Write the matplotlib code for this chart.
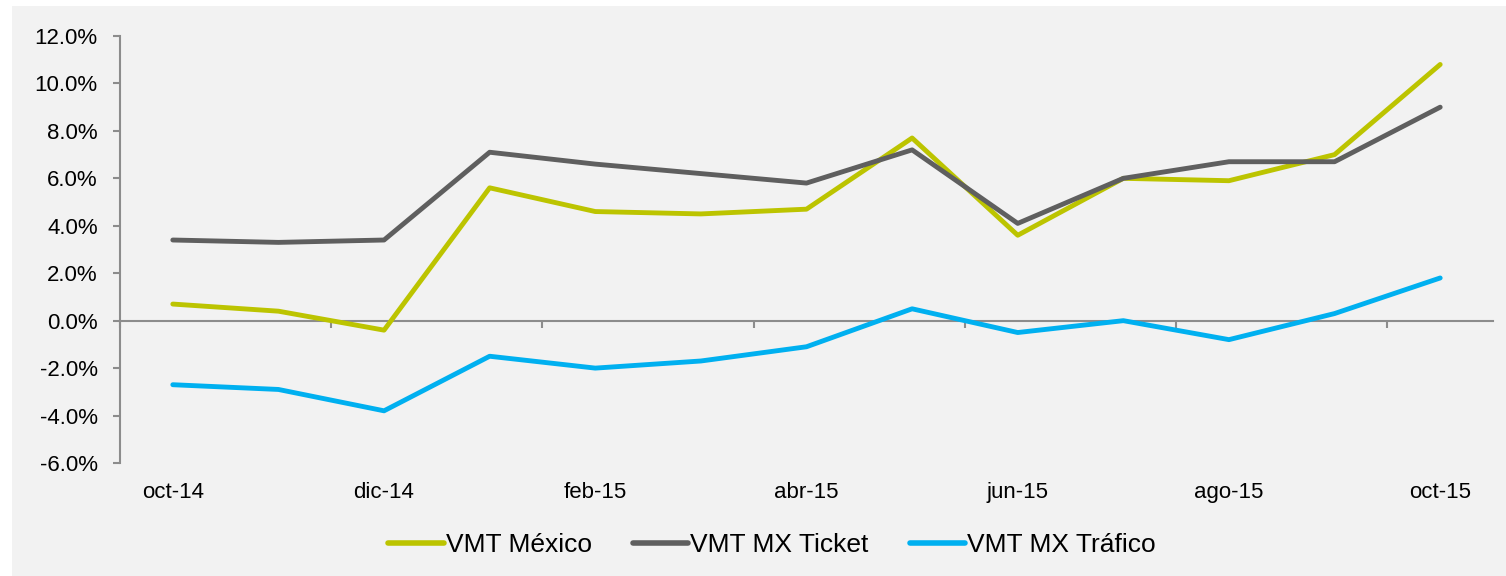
import numpy as np
import matplotlib.pyplot as plt
from matplotlib.patches import Rectangle
from matplotlib.ticker import FuncFormatter

months = ["oct-14", "nov-14", "dic-14", "ene-15", "feb-15", "mar-15", "abr-15",
          "may-15", "jun-15", "jul-15", "ago-15", "sep-15", "oct-15"]
vmt_mexico = [0.7, 0.4, -0.4, 5.6, 4.6, 4.5, 4.7, 7.7, 3.6, 6.0, 5.9, 7.0, 10.8]
vmt_ticket = [3.4, 3.3, 3.4, 7.1, 6.6, 6.2, 5.8, 7.2, 4.1, 6.0, 6.7, 6.7, 9.0]
vmt_trafico = [-2.7, -2.9, -3.8, -1.5, -2.0, -1.7, -1.1, 0.5, -0.5, 0.0, -0.8, 0.3, 1.8]

plt.rcParams['font.family'] = ['Liberation Sans', 'DejaVu Sans']
axis_gray = "#8c8c8c"
bg = "#f2f2f2"

fig = plt.figure(figsize=(15.06, 5.76), dpi=100)
fig.patch.set_facecolor("white")
fig.patches.append(Rectangle((12 / 1506, 0), 1, 570 / 576, transform=fig.transFigure,
                             facecolor=bg, edgecolor="none", zorder=-10))

ax = fig.add_axes([120 / 1506, 113 / 576, 1373 / 1506, 427 / 576])
ax.set_facecolor("none")

x = np.arange(len(months))
ax.plot(x, vmt_mexico, color="#bcc400", lw=3.5, solid_capstyle="round", label="VMT México", zorder=3)
ax.plot(x, vmt_ticket, color="#5f5f5f", lw=3.5, solid_capstyle="round", label="VMT MX Ticket", zorder=3)
ax.plot(x, vmt_trafico, color="#00b0f0", lw=3.5, solid_capstyle="round", label="VMT MX Tráfico", zorder=3)

ax.set_xlim(-0.5, len(months) - 0.5)
ax.set_ylim(-6, 12)
ax.set_yticks(np.arange(-6, 12.1, 2))
ax.yaxis.set_major_formatter(FuncFormatter(lambda v, p: f"{v:.1f}%"))
ax.set_xticks(x[::2])
ax.set_xticklabels(months[::2])
ax.tick_params(axis="x", length=0, labelsize=16, pad=14)
ax.tick_params(axis="y", length=5, color=axis_gray, width=1.5, labelsize=16, pad=11)

for s in ["top", "right", "bottom"]:
    ax.spines[s].set_visible(False)
ax.spines["left"].set_color(axis_gray)
ax.spines["left"].set_linewidth(1.5)

# category axis crossing at zero
sec = ax.secondary_xaxis(1 / 3)
sec.set_xticks(np.arange(-0.5, len(months), 2))
sec.set_xticklabels([])
sec.tick_params(axis="x", direction="out", length=5, color=axis_gray, width=1.5)
sec.spines["bottom"].set_color(axis_gray)
sec.spines["bottom"].set_linewidth(1.5)

leg = fig.legend(loc="center", bbox_to_anchor=(772 / 1506, 1 - 545 / 576), ncol=3, frameon=False,
                 fontsize=19, handlelength=2.1, handletextpad=0.08, columnspacing=1.55)
for h in leg.get_lines():
    h.set_linewidth(4)

fig.savefig("out.png", dpi=100, facecolor=fig.get_facecolor())
